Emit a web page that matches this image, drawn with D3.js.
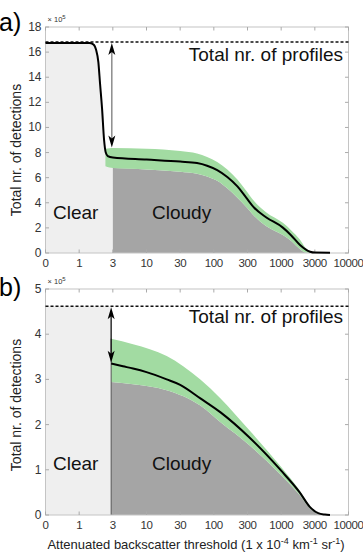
<!DOCTYPE html>
<html><head><meta charset="utf-8">
<script src="https://cdn.jsdelivr.net/npm/d3@7"></script>
<style>body{margin:0;background:#fff}svg{display:block}</style>
</head><body>
<svg id="c" width="363" height="553"></svg>
<script>
// ---------- data (x in tick-position units: 0..9 -> labels below; y in units of 1e5) ----------
const xTickLabels = ["0","1","3","10","30","100","300","1000","3000","10000"];
const yTicksA = [0,2,4,6,8,10,12,14,16,18];
const yTicksB = [0,1,2,3,4,5];
const totalA = 16.8;
const totalB = 4.62;
const clearEndA = 2.0;
const clearEndB = 1.95;
// mean number of detections [pos, value]
const meanA = [[0,16.72],[1.3,16.72],[1.42,16.62],[1.5,16.2],[1.57,15.2],[1.62,13.5],[1.68,11.5],[1.74,9.0],[1.79,8.0],[1.85,7.72],[2.0,7.6],[3.0,7.44],[4.0,7.28],[4.5,7.16],[4.8,6.95],[5.1,6.6],[5.4,6.05],[5.7,5.3],[5.95,4.45],[6.2,3.6],[6.55,2.85],[7.05,2.02],[7.3,1.4],[7.56,0.64],[7.86,0.1],[8.0,0.03],[8.45,0.02]];
// uncertainty band [pos, lower, upper]
const bandA = [[1.78,6.9,8.3],[1.9,6.8,8.35],[2.0,6.76,8.36],[3.0,6.66,8.3],[4.0,6.48,8.12],[4.5,6.32,7.92],[4.8,6.1,7.65],[5.1,5.75,7.25],[5.4,5.15,6.65],[5.7,4.4,5.85],[5.95,3.7,5.0],[6.2,2.95,4.12],[6.55,2.15,3.25],[7.05,1.43,2.4],[7.3,0.95,1.8],[7.56,0.3,1.05],[7.72,0.03,0.42],[7.86,0,0.12],[8.0,0,0.03]];
const meanB = [[1.95,3.35],[2.3,3.29],[2.6,3.24],[3.0,3.16],[3.6,3.0],[4.0,2.88],[4.6,2.58],[5.2,2.27],[6.05,1.72],[7.0,0.98],[7.55,0.5],[7.85,0.18],[8.1,0.04],[8.3,0.01],[8.45,0.0]];
const bandB = [[1.95,2.94,3.9],[2.6,2.89,3.78],[3.6,2.76,3.52],[4.6,2.42,3.0],[5.2,2.05,2.58],[6.05,1.55,1.88],[7.0,0.88,1.06],[7.55,0.44,0.54],[7.85,0.15,0.2],[8.1,0.03,0.04],[8.45,0,0]];

// ---------- drawing ----------
const FONT = "'Liberation Sans', Arial, Helvetica, sans-serif";
const svg = d3.select("#c").attr("font-family", FONT);
const x = d3.scaleLinear().domain([0, 9]).range([45.5, 348.5]);

function drawPanel(o) {
  const y = o.y;
  const g = svg.append("g");
  const x0 = x(0), x1 = x(9), yb = y.range()[0], yt = y.range()[1];

  // clear region
  if (o.clearCurve) {
    const pts = o.mean.filter(d => d[0] <= o.clearEnd);
    g.append("path").datum(pts)
      .attr("d", d3.area().x(d => x(d[0])).y0(yb).y1(d => y(d[1])).curve(d3.curveMonotoneX))
      .attr("fill", "#efefef");
  } else {
    g.append("rect").attr("x", x0).attr("y", y(o.total)).attr("width", x(o.clearEnd) - x0)
      .attr("height", yb - y(o.total)).attr("fill", "#efefef");
  }
  // cloudy region
  const cl = o.band.filter(d => d[0] >= o.clearEnd);
  g.append("path").datum(cl)
    .attr("d", d3.area().x(d => x(d[0])).y0(yb).y1(d => y(d[1])).curve(d3.curveMonotoneX))
    .attr("fill", "#a5a5a5");
  // band
  g.append("path").datum(o.band)
    .attr("d", d3.area().x(d => x(d[0])).y0(d => y(d[1])).y1(d => y(d[2])).curve(d3.curveMonotoneX))
    .attr("fill", "#a2dba2");
  if (o.edgeLine) {
    g.append("line").attr("x1", x(o.clearEnd)).attr("x2", x(o.clearEnd))
      .attr("y1", yb).attr("y2", y(o.band[0][2])).attr("stroke", "#555").attr("stroke-width", 1);
  }

  // frame
  g.append("rect").attr("x", x0).attr("y", yt).attr("width", x1 - x0).attr("height", yb - yt)
    .attr("fill", "none").attr("stroke", "#c4c4c4").attr("stroke-width", 1);
  // ticks
  xTickLabels.forEach((lab, i) => {
    g.append("line").attr("x1", x(i)).attr("x2", x(i)).attr("y1", yb).attr("y2", yb - 3.5).attr("stroke", "#aaa");
    g.append("line").attr("x1", x(i)).attr("x2", x(i)).attr("y1", yt).attr("y2", yt + 3.5).attr("stroke", "#aaa");
    g.append("text").attr("x", x(i)).attr("y", yb + 14).attr("text-anchor", "middle")
      .attr("font-size", 11.5).attr("letter-spacing", -0.4).attr("fill", "#333").text(lab);
  });
  o.ticks.forEach(t => {
    g.append("line").attr("x1", x0).attr("x2", x0 + 3.5).attr("y1", y(t)).attr("y2", y(t)).attr("stroke", "#aaa");
    g.append("line").attr("x1", x1).attr("x2", x1 - 3.5).attr("y1", y(t)).attr("y2", y(t)).attr("stroke", "#aaa");
    g.append("text").attr("x", x0 - 4).attr("y", y(t) + 4).attr("text-anchor", "end")
      .attr("font-size", 12).attr("fill", "#333").text(t);
  });
  // exponent
  const ex = g.append("text").attr("x", x0 + 2).attr("y", yt - 5).attr("font-size", 7.5).attr("fill", "#333");
  ex.append("tspan").text("\u00d7 10");
  ex.append("tspan").attr("dy", -3).attr("font-size", 6).text("5");

  // total line
  g.append("line").attr("x1", x0).attr("x2", x1).attr("y1", y(o.total)).attr("y2", y(o.total))
    .attr("stroke", "#111").attr("stroke-width", 1.6).attr("stroke-dasharray", "3,2");
  // mean line
  g.append("path").datum(o.mean)
    .attr("d", d3.line().x(d => x(d[0])).y(d => y(d[1])).curve(d3.curveMonotoneX))
    .attr("fill", "none").attr("stroke", "#000").attr("stroke-width", 2);

  // arrow
  const ax = x(o.arrowX), ya = y(o.total) + 1, yz = y(o.arrowEnd);
  g.append("line").attr("x1", ax).attr("x2", ax).attr("y1", ya + 6).attr("y2", yz - 6)
    .attr("stroke", o.arrowColor).attr("stroke-width", 1.3);
  g.append("path").attr("d", `M${ax},${ya} L${ax - 3.5},${ya + 12} L${ax},${ya + 9} L${ax + 3.5},${ya + 12} Z`).attr("fill", "#000");
  g.append("path").attr("d", `M${ax},${yz} L${ax - 3.5},${yz - 12} L${ax},${yz - 9} L${ax + 3.5},${yz - 12} Z`).attr("fill", "#000");

  // texts
  g.append("text").attr("x", 343).attr("y", o.profY).attr("text-anchor", "end")
    .attr("font-size", 19).attr("fill", "#111").text("Total nr. of profiles");
  g.append("text").attr("x", 53).attr("y", o.labY).attr("font-size", 19).attr("fill", "#111").text("Clear");
  g.append("text").attr("x", 152).attr("y", o.labY).attr("font-size", 19).attr("fill", "#111").text("Cloudy");
  g.append("text").attr("x", -1).attr("y", o.letterY).attr("font-size", 25).attr("fill", "#000").text(o.letter);
  g.append("text").attr("transform", `translate(21,${o.ylabC}) rotate(-90)`).attr("text-anchor", "middle")
    .attr("font-size", 14).attr("fill", "#222").text("Total nr. of detections");
}

drawPanel({
  y: d3.scaleLinear().domain([0, 18]).range([253, 27]),
  ticks: yTicksA, total: totalA, mean: meanA, band: bandA, clearEnd: clearEndA, clearCurve: true,
  edgeLine: false, arrowX: 1.97, arrowEnd: 8.4, arrowColor: "#7a7a7a",
  profY: 61, labY: 219, letter: "a)", letterY: 31, ylabC: 150
});
drawPanel({
  y: d3.scaleLinear().domain([0, 5]).range([515, 289]),
  ticks: yTicksB, total: totalB, mean: meanB, band: bandB, clearEnd: clearEndB, clearCurve: false,
  edgeLine: true, arrowX: 1.95, arrowEnd: 3.37, arrowColor: "#111",
  profY: 323, labY: 470, letter: "b)", letterY: 296, ylabC: 405
});

// x-axis title
const xt = svg.append("text").attr("x", 196).attr("y", 549).attr("text-anchor", "middle")
  .attr("font-size", 13).attr("fill", "#222");
xt.append("tspan").text("Attenuated backscatter threshold (1 x 10");
xt.append("tspan").attr("dy", -5).attr("font-size", 9).text("-4");
xt.append("tspan").attr("dy", 5).text(" km");
xt.append("tspan").attr("dy", -5).attr("font-size", 9).text("-1");
xt.append("tspan").attr("dy", 5).text(" sr");
xt.append("tspan").attr("dy", -5).attr("font-size", 9).text("-1");
xt.append("tspan").attr("dy", 5).text(")");
</script>
</body></html>
